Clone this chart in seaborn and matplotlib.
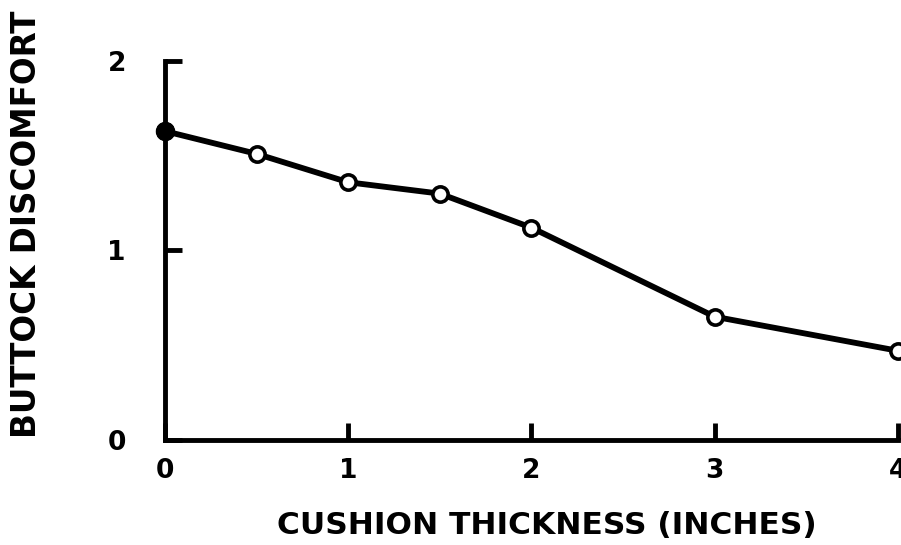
import matplotlib
matplotlib.use("Agg")
import matplotlib.pyplot as plt
import seaborn as sns
import pandas as pd

thickness = [0, 0.5, 1, 1.5, 2, 3, 4]
discomfort = [1.63, 1.51, 1.36, 1.30, 1.12, 0.65, 0.47]
x_ticks = [0, 1, 2, 3, 4]
y_ticks = [0, 1, 2]
x_label = "CUSHION THICKNESS (INCHES)"
y_label = "BUTTOCK DISCOMFORT"

df = pd.DataFrame({"thickness": thickness, "discomfort": discomfort})

sns.set_theme(style="ticks")
plt.rcParams["font.family"] = ["DejaVu Sans"]
plt.rcParams["text.color"] = "black"
plt.rcParams["axes.labelcolor"] = "black"
plt.rcParams["xtick.color"] = "black"
plt.rcParams["ytick.color"] = "black"

fig = plt.figure(figsize=(9.01, 5.45), dpi=100)
ax = fig.add_axes([0.183, 0.193, 0.8137, 0.695])

sns.lineplot(data=df, x="thickness", y="discomfort", ax=ax, color="black",
             linewidth=4.2, marker="o", markersize=11, markerfacecolor="white",
             markeredgecolor="black", markeredgewidth=2.6, clip_on=False, zorder=3)
# first point filled
ax.plot(thickness[:1], discomfort[:1], "o", color="black", markersize=13,
        clip_on=False, zorder=4)

ax.set_xlim(0, 4)
ax.set_ylim(0, 2)
ax.set_xticks(x_ticks)
ax.set_yticks(y_ticks)
ax.set_xticklabels([str(t) for t in x_ticks], fontsize=19, fontweight="bold")
ax.set_yticklabels([str(t) for t in y_ticks], fontsize=19, fontweight="bold")
ax.tick_params(axis="x", direction="in", length=12, width=3.5, pad=13, colors="black")
ax.tick_params(axis="y", direction="in", length=12, width=3.5, pad=28, colors="black")
for s in ["top", "right"]:
    ax.spines[s].set_visible(False)
for s in ["left", "bottom"]:
    ax.spines[s].set_linewidth(3.5)
    ax.spines[s].set_color("black")
    ax.spines[s].set_capstyle("projecting")

ax.set_xlabel("")
ax.set_ylabel("")
fig.text(547 / 901, 1 - 525 / 545, x_label, fontsize=22.5, fontweight="bold",
         ha="center", va="center", color="black")
fig.text(27 / 901, 1 - 224 / 545, y_label, rotation=90, fontsize=23.5,
         fontweight="bold", ha="center", va="center", color="black")

fig.savefig("out.png", dpi=100, facecolor="white")
